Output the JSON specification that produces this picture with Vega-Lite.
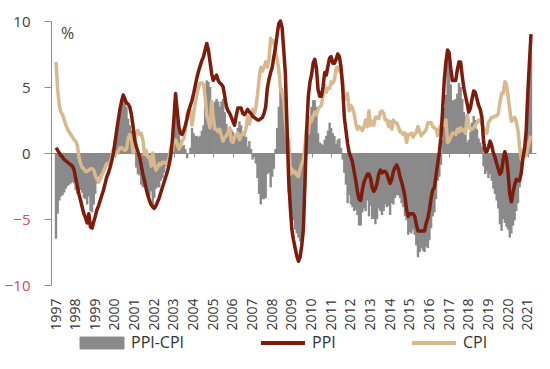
{
"$schema": "https://vega.github.io/schema/vega-lite/v6.json",
"width": 485, "height": 264,
"autosize": {"type": "none"},
"padding": {"left": 51, "top": 21, "right": 14, "bottom": 84},
"background": "white",
"config": {"view": {"stroke": null}, "font": "Open Sans"},
"data": {"format": {"parse": {"d": "utc:'%Y-%m'"}}, "values": [
{"d":"1997-03","p":0.4,"c":6.9,"g":-6.5},{"d":"1997-04","p":0.2,"c":4.8,"g":-4.6},{"d":"1997-05","p":0.0,"c":3.6,"g":-3.6},{"d":"1997-06","p":-0.2,"c":3.1,"g":-3.3},{"d":"1997-07","p":-0.3,"c":2.9,"g":-3.2},{"d":"1997-08","p":-0.5,"c":2.5,"g":-3.0},{"d":"1997-09","p":-0.6,"c":2.1,"g":-2.7},{"d":"1997-10","p":-0.7,"c":1.8,"g":-2.5},{"d":"1997-11","p":-0.8,"c":1.6,"g":-2.4},{"d":"1997-12","p":-0.9,"c":1.4,"g":-2.3},
{"d":"1998-01","p":-1.0,"c":1.2,"g":-2.2},{"d":"1998-02","p":-1.3,"c":1.0,"g":-2.3},{"d":"1998-03","p":-1.9,"c":0.9,"g":-2.8},{"d":"1998-04","p":-2.5,"c":0.6,"g":-3.1},{"d":"1998-05","p":-3.1,"c":-0.3,"g":-2.8},{"d":"1998-06","p":-3.6,"c":-0.8,"g":-2.8},{"d":"1998-07","p":-4.1,"c":-1.1,"g":-3.0},{"d":"1998-08","p":-4.6,"c":-1.2,"g":-3.4},{"d":"1998-09","p":-4.9,"c":-1.4,"g":-3.5},{"d":"1998-10","p":-5.3,"c":-1.4,"g":-3.9},{"d":"1998-11","p":-4.6,"c":-1.3,"g":-3.3},{"d":"1998-12","p":-5.6,"c":-1.2,"g":-4.4},
{"d":"1999-01","p":-5.7,"c":-1.2,"g":-4.5},{"d":"1999-02","p":-5.2,"c":-1.3,"g":-3.9},{"d":"1999-03","p":-4.8,"c":-1.7,"g":-3.1},{"d":"1999-04","p":-4.3,"c":-2.0,"g":-2.3},{"d":"1999-05","p":-4.0,"c":-2.2,"g":-1.8},{"d":"1999-06","p":-3.6,"c":-2.0,"g":-1.6},{"d":"1999-07","p":-3.2,"c":-1.7,"g":-1.5},{"d":"1999-08","p":-2.8,"c":-1.4,"g":-1.4},{"d":"1999-09","p":-2.3,"c":-1.1,"g":-1.2},{"d":"1999-10","p":-1.8,"c":-0.8,"g":-1.0},{"d":"1999-11","p":-1.5,"c":-0.8,"g":-0.7},{"d":"1999-12","p":-1.1,"c":-0.7,"g":-0.4},
{"d":"2000-01","p":-0.6,"c":-0.3,"g":-0.3},{"d":"2000-02","p":0.0,"c":0.3,"g":-0.3},{"d":"2000-03","p":0.8,"c":-0.1,"g":0.9},{"d":"2000-04","p":1.7,"c":0.0,"g":1.7},{"d":"2000-05","p":2.5,"c":0.1,"g":2.4},{"d":"2000-06","p":3.3,"c":0.4,"g":2.9},{"d":"2000-07","p":3.9,"c":0.4,"g":3.5},{"d":"2000-08","p":4.4,"c":0.3,"g":4.1},{"d":"2000-09","p":4.1,"c":0.2,"g":3.9},{"d":"2000-10","p":3.8,"c":0.3,"g":3.5},{"d":"2000-11","p":3.7,"c":1.1,"g":2.6},{"d":"2000-12","p":3.5,"c":1.4,"g":2.1},
{"d":"2001-01","p":2.9,"c":1.2,"g":1.7},{"d":"2001-02","p":2.0,"c":0.0,"g":2.0},{"d":"2001-03","p":1.0,"c":0.8,"g":0.2},{"d":"2001-04","p":0.5,"c":1.6,"g":-1.1},{"d":"2001-05","p":0.1,"c":1.7,"g":-1.6},{"d":"2001-06","p":-0.3,"c":1.4,"g":-1.7},{"d":"2001-07","p":-0.9,"c":1.5,"g":-2.4},{"d":"2001-08","p":-1.6,"c":1.0,"g":-2.6},{"d":"2001-09","p":-2.1,"c":-0.1,"g":-2.0},{"d":"2001-10","p":-2.7,"c":0.2,"g":-2.9},{"d":"2001-11","p":-3.2,"c":-0.3,"g":-2.9},{"d":"2001-12","p":-3.6,"c":-0.3,"g":-3.3},
{"d":"2002-01","p":-3.9,"c":-1.0,"g":-2.9},{"d":"2002-02","p":-4.1,"c":0.0,"g":-4.1},{"d":"2002-03","p":-4.2,"c":-0.8,"g":-3.4},{"d":"2002-04","p":-4.0,"c":-1.3,"g":-2.7},{"d":"2002-05","p":-3.7,"c":-1.1,"g":-2.6},{"d":"2002-06","p":-3.4,"c":-0.8,"g":-2.6},{"d":"2002-07","p":-3.0,"c":-0.9,"g":-2.1},{"d":"2002-08","p":-2.6,"c":-0.7,"g":-1.9},{"d":"2002-09","p":-2.2,"c":-0.7,"g":-1.5},{"d":"2002-10","p":-1.8,"c":-0.8,"g":-1.0},{"d":"2002-11","p":-1.4,"c":-0.7,"g":-0.7},{"d":"2002-12","p":-0.9,"c":-0.4,"g":-0.5},
{"d":"2003-01","p":-0.2,"c":0.4,"g":-0.6},{"d":"2003-02","p":1.0,"c":0.2,"g":0.8},{"d":"2003-03","p":2.6,"c":0.9,"g":1.7},{"d":"2003-04","p":4.5,"c":1.0,"g":3.5},{"d":"2003-05","p":3.2,"c":0.7,"g":2.5},{"d":"2003-06","p":2.0,"c":0.3,"g":1.7},{"d":"2003-07","p":1.5,"c":0.5,"g":1.0},{"d":"2003-08","p":1.4,"c":0.9,"g":0.5},{"d":"2003-09","p":1.7,"c":1.1,"g":0.6},{"d":"2003-10","p":2.1,"c":1.8,"g":0.3},{"d":"2003-11","p":2.6,"c":3.0,"g":-0.4},{"d":"2003-12","p":3.2,"c":3.2,"g":0.0},
{"d":"2004-01","p":3.6,"c":3.2,"g":0.4},{"d":"2004-02","p":4.0,"c":2.1,"g":1.9},{"d":"2004-03","p":4.5,"c":3.0,"g":1.5},{"d":"2004-04","p":5.1,"c":3.8,"g":1.3},{"d":"2004-05","p":5.7,"c":4.4,"g":1.3},{"d":"2004-06","p":6.2,"c":5.0,"g":1.2},{"d":"2004-07","p":6.6,"c":5.3,"g":1.3},{"d":"2004-08","p":7.0,"c":5.3,"g":1.7},{"d":"2004-09","p":7.3,"c":5.2,"g":2.1},{"d":"2004-10","p":7.8,"c":4.3,"g":3.5},{"d":"2004-11","p":8.3,"c":2.8,"g":5.5},{"d":"2004-12","p":7.8,"c":2.4,"g":5.4},
{"d":"2005-01","p":6.9,"c":1.9,"g":5.0},{"d":"2005-02","p":6.0,"c":3.9,"g":2.1},{"d":"2005-03","p":5.5,"c":2.7,"g":2.8},{"d":"2005-04","p":5.7,"c":1.8,"g":3.9},{"d":"2005-05","p":5.9,"c":1.8,"g":4.1},{"d":"2005-06","p":5.5,"c":1.6,"g":3.9},{"d":"2005-07","p":5.3,"c":1.8,"g":3.5},{"d":"2005-08","p":5.2,"c":1.3,"g":3.9},{"d":"2005-09","p":5.0,"c":0.9,"g":4.1},{"d":"2005-10","p":4.3,"c":1.2,"g":3.1},{"d":"2005-11","p":3.5,"c":1.3,"g":2.2},{"d":"2005-12","p":3.2,"c":1.6,"g":1.6},
{"d":"2006-01","p":3.0,"c":1.9,"g":1.1},{"d":"2006-02","p":2.7,"c":0.9,"g":1.8},{"d":"2006-03","p":2.4,"c":0.8,"g":1.6},{"d":"2006-04","p":2.1,"c":1.2,"g":0.9},{"d":"2006-05","p":2.8,"c":1.4,"g":1.4},{"d":"2006-06","p":3.4,"c":1.5,"g":1.9},{"d":"2006-07","p":3.4,"c":1.0,"g":2.4},{"d":"2006-08","p":3.4,"c":1.3,"g":2.1},{"d":"2006-09","p":3.0,"c":1.5,"g":1.5},{"d":"2006-10","p":2.9,"c":1.4,"g":1.5},{"d":"2006-11","p":3.1,"c":1.9,"g":1.2},{"d":"2006-12","p":3.3,"c":2.8,"g":0.5},
{"d":"2007-01","p":3.1,"c":2.2,"g":0.9},{"d":"2007-02","p":3.0,"c":2.7,"g":0.3},{"d":"2007-03","p":2.8,"c":3.3,"g":-0.5},{"d":"2007-04","p":2.7,"c":3.0,"g":-0.3},{"d":"2007-05","p":2.6,"c":3.4,"g":-0.8},{"d":"2007-06","p":2.5,"c":4.4,"g":-1.9},{"d":"2007-07","p":2.5,"c":5.6,"g":-3.1},{"d":"2007-08","p":2.6,"c":6.5,"g":-3.9},{"d":"2007-09","p":2.7,"c":6.2,"g":-3.5},{"d":"2007-10","p":3.0,"c":6.5,"g":-3.5},{"d":"2007-11","p":3.5,"c":6.9,"g":-3.4},{"d":"2007-12","p":4.9,"c":6.5,"g":-1.6},
{"d":"2008-01","p":5.6,"c":7.1,"g":-1.5},{"d":"2008-02","p":6.1,"c":8.7,"g":-2.6},{"d":"2008-03","p":6.5,"c":8.3,"g":-1.8},{"d":"2008-04","p":7.3,"c":8.5,"g":-1.2},{"d":"2008-05","p":8.0,"c":7.7,"g":0.3},{"d":"2008-06","p":9.0,"c":7.1,"g":1.9},{"d":"2008-07","p":9.8,"c":6.3,"g":3.5},{"d":"2008-08","p":10.0,"c":4.9,"g":5.1},{"d":"2008-09","p":9.5,"c":4.6,"g":4.9},{"d":"2008-10","p":7.8,"c":4.0,"g":3.8},{"d":"2008-11","p":6.0,"c":2.4,"g":3.6},{"d":"2008-12","p":2.0,"c":1.2,"g":0.8},
{"d":"2009-01","p":-2.0,"c":1.0,"g":-3.0},{"d":"2009-02","p":-4.2,"c":-1.6,"g":-2.6},{"d":"2009-03","p":-5.8,"c":-1.2,"g":-4.6},{"d":"2009-04","p":-6.6,"c":-1.5,"g":-5.1},{"d":"2009-05","p":-7.2,"c":-1.4,"g":-5.8},{"d":"2009-06","p":-7.8,"c":-1.7,"g":-6.1},{"d":"2009-07","p":-8.2,"c":-1.8,"g":-6.4},{"d":"2009-08","p":-7.9,"c":-1.2,"g":-6.7},{"d":"2009-09","p":-7.0,"c":-0.8,"g":-6.2},{"d":"2009-10","p":-5.8,"c":-0.5,"g":-5.3},{"d":"2009-11","p":-2.1,"c":0.6,"g":-2.7},{"d":"2009-12","p":1.7,"c":1.9,"g":-0.2},
{"d":"2010-01","p":4.3,"c":1.5,"g":2.8},{"d":"2010-02","p":5.4,"c":2.7,"g":2.7},{"d":"2010-03","p":5.9,"c":2.4,"g":3.5},{"d":"2010-04","p":6.8,"c":2.8,"g":4.0},{"d":"2010-05","p":7.1,"c":3.1,"g":4.0},{"d":"2010-06","p":6.4,"c":2.9,"g":3.5},{"d":"2010-07","p":4.8,"c":3.3,"g":1.5},{"d":"2010-08","p":4.3,"c":3.5,"g":0.8},{"d":"2010-09","p":4.3,"c":3.6,"g":0.7},{"d":"2010-10","p":5.0,"c":4.4,"g":0.6},{"d":"2010-11","p":6.1,"c":5.1,"g":1.0},{"d":"2010-12","p":5.9,"c":4.6,"g":1.3},
{"d":"2011-01","p":6.6,"c":4.9,"g":1.7},{"d":"2011-02","p":7.2,"c":4.9,"g":2.3},{"d":"2011-03","p":7.3,"c":5.4,"g":1.9},{"d":"2011-04","p":6.8,"c":5.3,"g":1.5},{"d":"2011-05","p":6.8,"c":5.5,"g":1.3},{"d":"2011-06","p":7.1,"c":6.4,"g":0.7},{"d":"2011-07","p":7.5,"c":6.5,"g":1.0},{"d":"2011-08","p":7.3,"c":6.2,"g":1.1},{"d":"2011-09","p":6.5,"c":6.1,"g":0.4},{"d":"2011-10","p":5.0,"c":5.5,"g":-0.5},{"d":"2011-11","p":2.7,"c":4.2,"g":-1.5},{"d":"2011-12","p":1.7,"c":4.1,"g":-2.4},
{"d":"2012-01","p":0.7,"c":4.5,"g":-3.8},{"d":"2012-02","p":0.0,"c":3.2,"g":-3.2},{"d":"2012-03","p":-0.3,"c":3.6,"g":-3.9},{"d":"2012-04","p":-0.7,"c":3.4,"g":-4.1},{"d":"2012-05","p":-1.4,"c":3.0,"g":-4.4},{"d":"2012-06","p":-2.1,"c":2.2,"g":-4.3},{"d":"2012-07","p":-2.9,"c":1.8,"g":-4.7},{"d":"2012-08","p":-3.5,"c":2.0,"g":-5.5},{"d":"2012-09","p":-3.6,"c":1.9,"g":-5.5},{"d":"2012-10","p":-2.8,"c":1.7,"g":-4.5},{"d":"2012-11","p":-2.2,"c":2.0,"g":-4.2},{"d":"2012-12","p":-1.9,"c":2.5,"g":-4.4},
{"d":"2013-01","p":-1.6,"c":2.0,"g":-3.6},{"d":"2013-02","p":-1.6,"c":3.2,"g":-4.8},{"d":"2013-03","p":-1.9,"c":2.1,"g":-4.0},{"d":"2013-04","p":-2.6,"c":2.4,"g":-5.0},{"d":"2013-05","p":-2.9,"c":2.1,"g":-5.0},{"d":"2013-06","p":-2.7,"c":2.7,"g":-5.4},{"d":"2013-07","p":-2.3,"c":2.7,"g":-5.0},{"d":"2013-08","p":-1.6,"c":2.6,"g":-4.2},{"d":"2013-09","p":-1.3,"c":3.1,"g":-4.4},{"d":"2013-10","p":-1.5,"c":3.2,"g":-4.7},{"d":"2013-11","p":-1.4,"c":3.0,"g":-4.4},{"d":"2013-12","p":-1.4,"c":2.5,"g":-3.9},
{"d":"2014-01","p":-1.6,"c":2.5,"g":-4.1},{"d":"2014-02","p":-2.0,"c":2.0,"g":-4.0},{"d":"2014-03","p":-2.3,"c":2.4,"g":-4.7},{"d":"2014-04","p":-2.0,"c":1.8,"g":-3.8},{"d":"2014-05","p":-1.4,"c":2.5,"g":-3.9},{"d":"2014-06","p":-1.1,"c":2.3,"g":-3.4},{"d":"2014-07","p":-0.9,"c":2.3,"g":-3.2},{"d":"2014-08","p":-1.2,"c":2.0,"g":-3.2},{"d":"2014-09","p":-1.8,"c":1.6,"g":-3.4},{"d":"2014-10","p":-2.2,"c":1.6,"g":-3.8},{"d":"2014-11","p":-2.7,"c":1.4,"g":-4.1},{"d":"2014-12","p":-3.3,"c":1.5,"g":-4.8},
{"d":"2015-01","p":-4.3,"c":0.8,"g":-5.1},{"d":"2015-02","p":-4.8,"c":1.4,"g":-6.2},{"d":"2015-03","p":-4.6,"c":1.4,"g":-6.0},{"d":"2015-04","p":-4.6,"c":1.5,"g":-6.1},{"d":"2015-05","p":-4.6,"c":1.2,"g":-5.8},{"d":"2015-06","p":-4.8,"c":1.4,"g":-6.2},{"d":"2015-07","p":-5.4,"c":1.6,"g":-7.0},{"d":"2015-08","p":-5.9,"c":2.0,"g":-7.9},{"d":"2015-09","p":-5.9,"c":1.6,"g":-7.5},{"d":"2015-10","p":-5.9,"c":1.3,"g":-7.2},{"d":"2015-11","p":-5.9,"c":1.5,"g":-7.4},{"d":"2015-12","p":-5.9,"c":1.6,"g":-7.5},
{"d":"2016-01","p":-5.3,"c":1.8,"g":-7.1},{"d":"2016-02","p":-4.9,"c":2.3,"g":-7.2},{"d":"2016-03","p":-4.3,"c":2.3,"g":-6.6},{"d":"2016-04","p":-3.4,"c":2.3,"g":-5.7},{"d":"2016-05","p":-2.8,"c":2.0,"g":-4.8},{"d":"2016-06","p":-2.6,"c":1.9,"g":-4.5},{"d":"2016-07","p":-1.7,"c":1.8,"g":-3.5},{"d":"2016-08","p":-0.8,"c":1.3,"g":-2.1},{"d":"2016-09","p":0.1,"c":1.9,"g":-1.8},{"d":"2016-10","p":1.2,"c":2.1,"g":-0.9},{"d":"2016-11","p":3.3,"c":2.3,"g":1.0},{"d":"2016-12","p":5.5,"c":2.1,"g":3.4},
{"d":"2017-01","p":6.9,"c":2.5,"g":4.4},{"d":"2017-02","p":7.8,"c":0.8,"g":7.0},{"d":"2017-03","p":7.6,"c":0.9,"g":6.7},{"d":"2017-04","p":6.4,"c":1.2,"g":5.2},{"d":"2017-05","p":5.5,"c":1.5,"g":4.0},{"d":"2017-06","p":5.5,"c":1.5,"g":4.0},{"d":"2017-07","p":5.5,"c":1.4,"g":4.1},{"d":"2017-08","p":6.3,"c":1.8,"g":4.5},{"d":"2017-09","p":6.9,"c":1.6,"g":5.3},{"d":"2017-10","p":6.9,"c":1.9,"g":5.0},{"d":"2017-11","p":5.8,"c":1.7,"g":4.1},{"d":"2017-12","p":4.9,"c":1.8,"g":3.1},
{"d":"2018-01","p":4.3,"c":1.5,"g":2.8},{"d":"2018-02","p":3.7,"c":2.9,"g":0.8},{"d":"2018-03","p":3.1,"c":2.1,"g":1.0},{"d":"2018-04","p":3.4,"c":1.8,"g":1.6},{"d":"2018-05","p":4.1,"c":1.8,"g":2.3},{"d":"2018-06","p":4.7,"c":1.9,"g":2.8},{"d":"2018-07","p":4.6,"c":2.1,"g":2.5},{"d":"2018-08","p":4.1,"c":2.3,"g":1.8},{"d":"2018-09","p":3.6,"c":2.5,"g":1.1},{"d":"2018-10","p":3.3,"c":2.5,"g":0.8},{"d":"2018-11","p":2.7,"c":2.2,"g":0.5},{"d":"2018-12","p":0.9,"c":1.9,"g":-1.0},
{"d":"2019-01","p":0.1,"c":1.7,"g":-1.6},{"d":"2019-02","p":0.1,"c":1.5,"g":-1.4},{"d":"2019-03","p":0.4,"c":2.3,"g":-1.9},{"d":"2019-04","p":0.9,"c":2.5,"g":-1.6},{"d":"2019-05","p":0.6,"c":2.7,"g":-2.1},{"d":"2019-06","p":0.0,"c":2.7,"g":-2.7},{"d":"2019-07","p":-0.3,"c":2.8,"g":-3.1},{"d":"2019-08","p":-0.8,"c":2.8,"g":-3.6},{"d":"2019-09","p":-1.2,"c":3.0,"g":-4.2},{"d":"2019-10","p":-1.6,"c":3.8,"g":-5.4},{"d":"2019-11","p":-1.4,"c":4.5,"g":-5.9},{"d":"2019-12","p":-0.5,"c":4.5,"g":-5.0},
{"d":"2020-01","p":0.1,"c":5.4,"g":-5.3},{"d":"2020-02","p":-0.4,"c":5.2,"g":-5.6},{"d":"2020-03","p":-1.5,"c":4.3,"g":-5.8},{"d":"2020-04","p":-3.1,"c":3.3,"g":-6.4},{"d":"2020-05","p":-3.7,"c":2.4,"g":-6.1},{"d":"2020-06","p":-3.0,"c":2.5,"g":-5.5},{"d":"2020-07","p":-2.4,"c":2.7,"g":-5.1},{"d":"2020-08","p":-2.0,"c":2.4,"g":-4.4},{"d":"2020-09","p":-2.1,"c":1.7,"g":-3.8},{"d":"2020-10","p":-2.1,"c":0.5,"g":-2.6},{"d":"2020-11","p":-1.5,"c":-0.5,"g":-1.0},{"d":"2020-12","p":-0.4,"c":0.2,"g":-0.6},
{"d":"2021-01","p":0.3,"c":-0.3,"g":0.6},{"d":"2021-02","p":1.7,"c":-0.2,"g":1.9},{"d":"2021-03","p":4.4,"c":0.4,"g":4.0},{"d":"2021-04","p":6.8,"c":0.9,"g":5.9},{"d":"2021-05","p":9.0,"c":1.3,"g":7.7}
]},
"layer": [
{"mark": {"type": "bar", "width": 2.4, "color": "#8a8a8a"},
 "encoding": {
  "x": {"field": "d", "type": "temporal",
   "scale": {"type": "utc", "domain": [{"year":1997,"month":3,"date":1,"utc":true},{"year":2021,"month":5,"date":1,"utc":true}]},
   "axis": {"orient": "bottom", "format": "%Y", "labelAngle": 270, "labelFont": "Open Sans", "labelFontSize": 14, "labelColor": "#333333", "labelPadding": 13, "ticks": false, "domain": false, "grid": false, "title": null, "labelOverlap": false, "labelBound": false, "labelFlush": false,
    "values": [{"year":1997,"month":3,"date":1,"utc":true},{"year":1998,"month":3,"date":1,"utc":true},{"year":1999,"month":3,"date":1,"utc":true},{"year":2000,"month":3,"date":1,"utc":true},{"year":2001,"month":3,"date":1,"utc":true},{"year":2002,"month":3,"date":1,"utc":true},{"year":2003,"month":3,"date":1,"utc":true},{"year":2004,"month":3,"date":1,"utc":true},{"year":2005,"month":3,"date":1,"utc":true},{"year":2006,"month":3,"date":1,"utc":true},{"year":2007,"month":3,"date":1,"utc":true},{"year":2008,"month":3,"date":1,"utc":true},{"year":2009,"month":3,"date":1,"utc":true},{"year":2010,"month":3,"date":1,"utc":true},{"year":2011,"month":3,"date":1,"utc":true},{"year":2012,"month":3,"date":1,"utc":true},{"year":2013,"month":3,"date":1,"utc":true},{"year":2014,"month":3,"date":1,"utc":true},{"year":2015,"month":3,"date":1,"utc":true},{"year":2016,"month":3,"date":1,"utc":true},{"year":2017,"month":3,"date":1,"utc":true},{"year":2018,"month":3,"date":1,"utc":true},{"year":2019,"month":3,"date":1,"utc":true},{"year":2020,"month":3,"date":1,"utc":true},{"year":2021,"month":3,"date":1,"utc":true}]}},
  "y": {"field": "g", "type": "quantitative", "scale": {"domain": [-10, 10], "nice": false},
   "axis": {"title": "%", "titleAngle": 0, "titleX": 16, "titleY": 12, "titleAlign": "center", "titleBaseline": "middle", "titleFont": "Open Sans", "titleFontSize": 16, "titleFontWeight": "normal", "titleColor": "#404040",
    "values": [-10, -5, 0, 5, 10], "grid": false, "domainColor": "#8c8c8c", "tickColor": "#8c8c8c", "tickSize": 7, "labelPadding": 14, "labelFont": "Open Sans", "labelFontSize": 15,
    "labelColor": {"condition": {"test": "datum.value < 0", "value": "#d9485a"}, "value": "#404040"}}},
  "color": {"datum": "PPI-CPI", "type": "nominal",
   "scale": {"domain": ["PPI-CPI", "PPI", "CPI"], "range": ["#8a8a8a", "#7d1c0c", "#d8b98e"]},
   "legend": {"title": null, "orient": "none", "legendX": 27, "legendY": 298, "direction": "horizontal", "gridAlign": "none", "columnPadding": 68, "padding": 0,
    "labelFont": "Open Sans", "labelFontSize": 16, "labelColor": "#333333", "labelOffset": 5, "symbolSize": 1936, "symbolType": "stroke", "symbolStrokeWidth": 4,
    "encode": {"symbols": {"update": {
      "shape": {"signal": "(datum.value === 'PPI-CPI' ? 'M-1,-0.27H1V0.27H-1Z' : 'stroke')"},
      "fill": {"signal": "(datum.value === 'PPI-CPI' ? '#8c8c8c' : 'transparent')"},
      "stroke": {"signal": "(datum.value === 'PPI-CPI' ? '#707070' : (datum.value === 'PPI' ? '#7d1c0c' : '#d8b98e'))"},
      "strokeWidth": {"signal": "(datum.value === 'PPI-CPI' ? 1 : 4)"},
      "opacity": {"value": 1}, "fillOpacity": {"value": 1}, "strokeOpacity": {"value": 1}}}}}}
 }},
{"mark": {"type": "line", "strokeWidth": 3.5, "strokeJoin": "round"},
 "encoding": {
  "x": {"field": "d", "type": "temporal",
   "axis": {"orient": "bottom", "offset": -132, "labels": false, "ticks": true, "tickSize": 4, "tickColor": "#8c8c8c", "domain": true, "domainColor": "#8c8c8c", "grid": false, "title": null,
    "values": [{"year":1997,"month":3,"date":1,"utc":true},{"year":1998,"month":3,"date":1,"utc":true},{"year":1999,"month":3,"date":1,"utc":true},{"year":2000,"month":3,"date":1,"utc":true},{"year":2001,"month":3,"date":1,"utc":true},{"year":2002,"month":3,"date":1,"utc":true},{"year":2003,"month":3,"date":1,"utc":true},{"year":2004,"month":3,"date":1,"utc":true},{"year":2005,"month":3,"date":1,"utc":true},{"year":2006,"month":3,"date":1,"utc":true},{"year":2007,"month":3,"date":1,"utc":true},{"year":2008,"month":3,"date":1,"utc":true},{"year":2009,"month":3,"date":1,"utc":true},{"year":2010,"month":3,"date":1,"utc":true},{"year":2011,"month":3,"date":1,"utc":true},{"year":2012,"month":3,"date":1,"utc":true},{"year":2013,"month":3,"date":1,"utc":true},{"year":2014,"month":3,"date":1,"utc":true},{"year":2015,"month":3,"date":1,"utc":true},{"year":2016,"month":3,"date":1,"utc":true},{"year":2017,"month":3,"date":1,"utc":true},{"year":2018,"month":3,"date":1,"utc":true},{"year":2019,"month":3,"date":1,"utc":true},{"year":2020,"month":3,"date":1,"utc":true},{"year":2021,"month":3,"date":1,"utc":true}]}},
  "y": {"field": "c", "type": "quantitative"},
  "color": {"datum": "CPI", "type": "nominal"}
 }},
{"mark": {"type": "line", "strokeWidth": 3.5, "strokeJoin": "round"},
 "encoding": {
  "x": {"field": "d", "type": "temporal", "axis": null},
  "y": {"field": "p", "type": "quantitative"},
  "color": {"datum": "PPI", "type": "nominal"}
 }}
],
"resolve": {"axis": {"x": "independent"}}
}
